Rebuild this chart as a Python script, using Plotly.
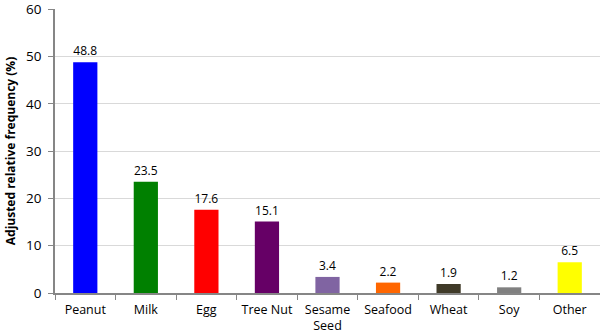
import plotly.graph_objects as go

categories = ["Peanut", "Milk", "Egg", "Tree Nut", "Sesame<br>Seed", "Seafood", "Wheat", "Soy", "Other"]
values = [48.8, 23.5, 17.6, 15.1, 3.4, 2.2, 1.9, 1.2, 6.5]
colors = ["#0000FF", "#008000", "#FF0000", "#660066", "#8064A2", "#FF6600", "#3F3A28", "#808080", "#FFFF00"]
y_ticks = [0, 10, 20, 30, 40, 50, 60]

fig = go.Figure(go.Bar(
    x=categories, y=values, marker=dict(color=colors, line=dict(width=0)),
    width=0.4,
    text=[f"{v:.1f}" for v in values], textposition="outside",
    textfont=dict(size=12, color="#000000", family="Open Sans"),
    cliponaxis=False,
))

fig.update_layout(
    width=600, height=335,
    margin=dict(l=55, r=0, t=9, b=42),
    plot_bgcolor="white", paper_bgcolor="white",
    font=dict(family="Open Sans", size=12, color="#000000"),
    showlegend=False,
    bargap=0.6,
    xaxis=dict(
        tickson="boundaries", ticks="outside", ticklen=5, tickcolor="#868686",
        showline=True, linecolor="#868686", linewidth=1.5,
        tickfont=dict(size=12.5), ticklabelstandoff=4, automargin=False,
    ),
    yaxis=dict(
        range=[0, 60.05], tickvals=y_ticks, ticks="outside", ticklen=5, tickcolor="#868686",
        showline=True, linecolor="#868686", linewidth=1.5,
        showgrid=True, gridcolor="#D9D9D9", gridwidth=1,
        tickfont=dict(size=13.5), ticklabelstandoff=4, ticklabeloverflow="allow",
        title=dict(text="<b>Adjusted relative frequency (%)</b>", font=dict(size=12), standoff=8),
        zeroline=False, automargin=False,
    ),
)

fig.write_html("out.html", config={"displayModeBar": False},
               post_script="document.body.style.margin='0';document.body.style.overflow='hidden';")
